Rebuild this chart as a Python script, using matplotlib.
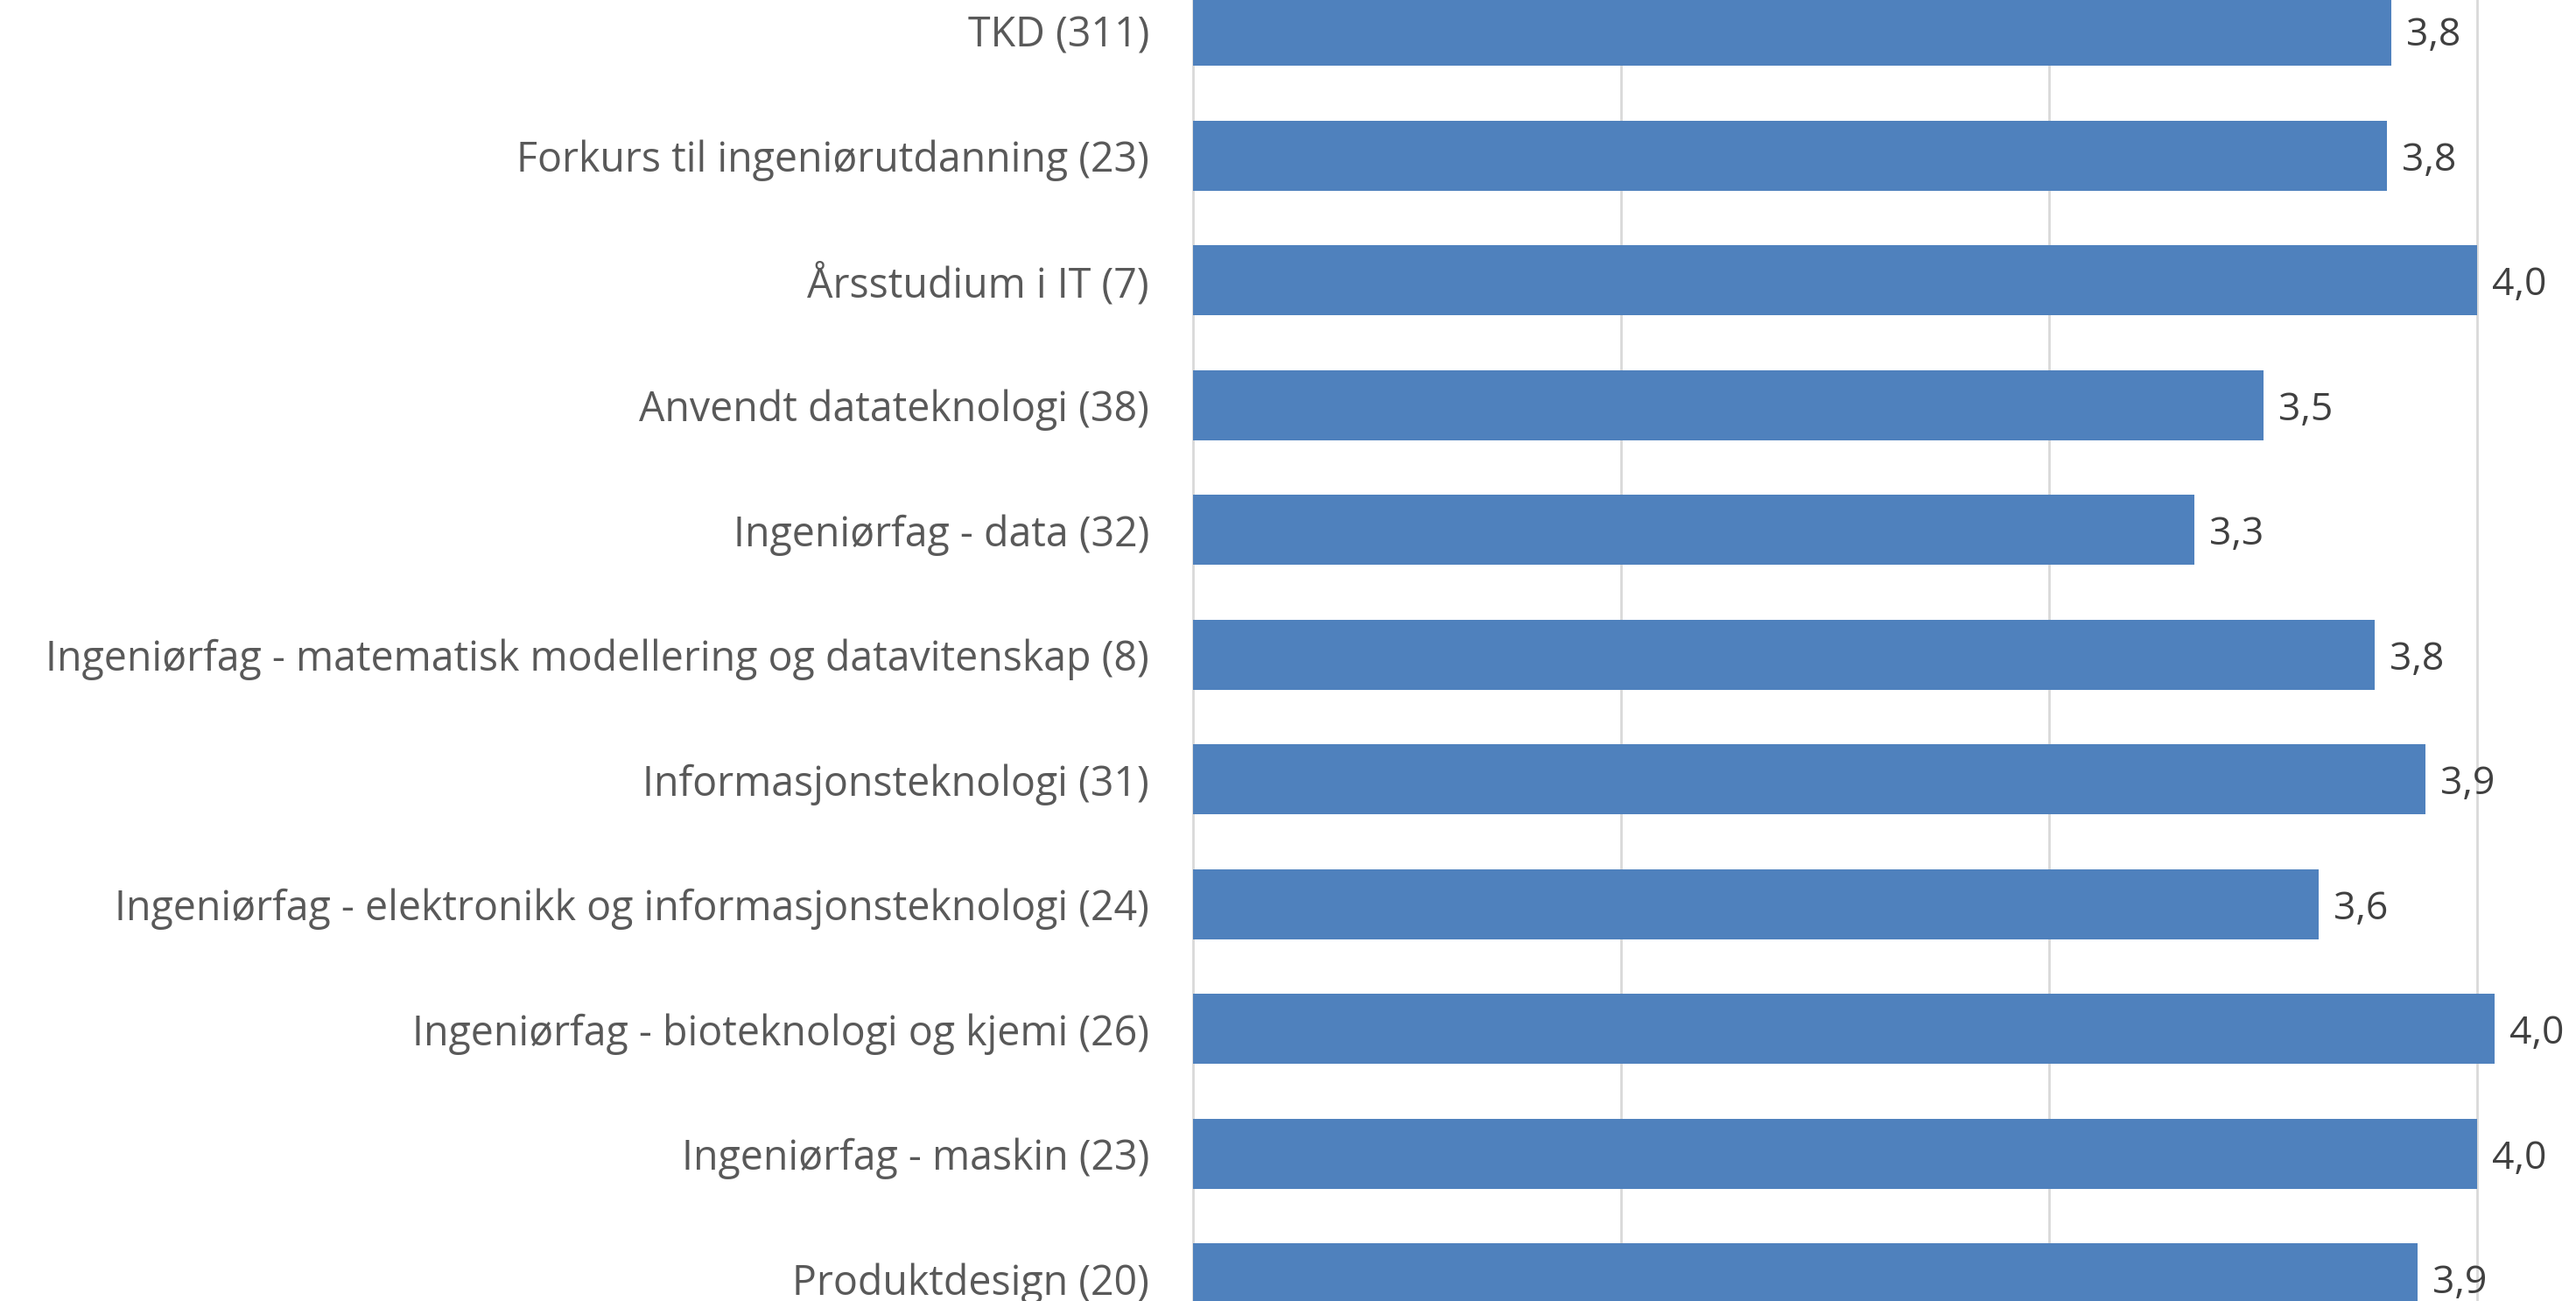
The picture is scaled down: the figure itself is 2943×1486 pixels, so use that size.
import matplotlib.pyplot as plt

# data (top to bottom)
programs = [
    "TKD (311)",
    "Forkurs til ingeniørutdanning (23)",
    "Årsstudium i IT (7)",
    "Anvendt datateknologi (38)",
    "Ingeniørfag - data (32)",
    "Ingeniørfag - matematisk modellering og datavitenskap (8)",
    "Informasjonsteknologi (31)",
    "Ingeniørfag - elektronikk og informasjonsteknologi (24)",
    "Ingeniørfag - bioteknologi og kjemi (26)",
    "Ingeniørfag - maskin (23)",
    "Produktdesign (20)",
]
scores = [3.80, 3.79, 4.00, 3.50, 3.34, 3.76, 3.88, 3.63, 4.04, 4.00, 3.86]

BAR_COLOR = "#4f81bd"
GRID_COLOR = "#d9d9d9"

plt.rcParams["font.family"] = ["Open Sans", "DejaVu Sans"]

fig = plt.figure(figsize=(29.43, 14.86), dpi=100)
# the reference is a crop of a larger chart, so the axes run past the edges
ax = fig.add_axes([1363 / 2943, 0, 1 - 1363 / 2943, 1])

pos = list(range(len(programs)))
ax.barh(pos, [s - 1 for s in scores], left=1, height=0.56, color=BAR_COLOR, zorder=3)

for p, s in zip(pos, scores):
    ax.text(s + 0.035, p, f"{s:.1f}".replace(".", ","), va="center_baseline", ha="left",
            fontsize=32, color="#404040", zorder=4)

ax.set_xlim(1, 1 + (2943 - 1363) / 489)
ax.set_ylim(pos[-1] + 0.18, pos[0] - 0.248)

ax.set_yticks(pos)
ax.set_yticklabels(programs, fontsize=33.5, color="#595959")
ax.tick_params(axis="y", length=0, pad=36)
ax.set_xticks([2, 3, 4])
ax.tick_params(axis="x", length=0, labelbottom=False)
ax.grid(axis="x", color=GRID_COLOR, linewidth=2, zorder=0)

for side in ["top", "right", "bottom"]:
    ax.spines[side].set_visible(False)
ax.spines["left"].set_color(GRID_COLOR)
ax.spines["left"].set_linewidth(2)

fig.savefig("out.png", dpi=100)
